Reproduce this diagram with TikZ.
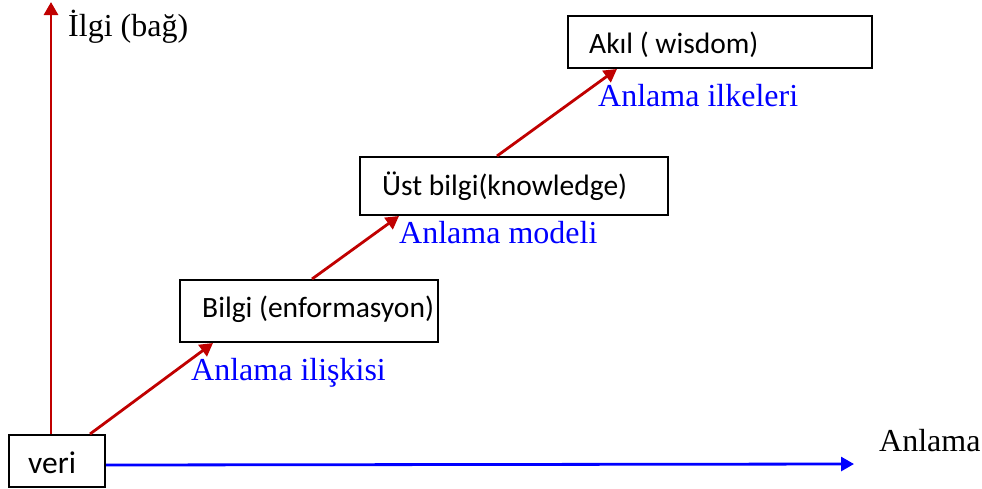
\documentclass[tikz,border=0pt]{standalone}
\usepackage{fontspec}
\setmainfont{Liberation Serif}
\newfontfamily\boxfont{Carlito}
\usetikzlibrary{arrows.meta,calc}

\definecolor{linkred}{RGB}{192,0,0}
\definecolor{axisblue}{RGB}{0,0,255}

\tikzset{
  stage/.style={draw=black, line width=2pt, rectangle, inner sep=0pt, anchor=north west},
  stagetext/.style={anchor=base west, inner sep=0pt, font=\boxfont\fontsize{29.5}{31}\selectfont},
  label/.style={anchor=base west, inner sep=0pt, font=\fontsize{32}{34}\selectfont},
  bluelabel/.style={label, text=axisblue},
  link/.style={draw=linkred, line width=2.8pt, -{Triangle[length=13pt,width=14pt]}},
  axis/.style={draw=axisblue, line width=2.8pt, -{Triangle[length=13pt,width=14pt]}},
}

\begin{document}
\begin{tikzpicture}[x=1pt, y=-1pt]
  \useasboundingbox (0,0) rectangle (982,488);

  % stage boxes
  \node[stage, minimum width=96pt,  minimum height=52pt] (veri)  at (8,434)   {};
  \node[stage, minimum width=258pt, minimum height=62pt] (bilgi) at (179,279) {};
  \node[stage, minimum width=308pt, minimum height=58pt] (ust)   at (359,156) {};
  \node[stage, minimum width=304pt, minimum height=52pt] (akil)  at (567,15)  {};

  % box texts
  \node[stagetext, font=\boxfont\fontsize{31.5}{33}\selectfont] (veriT) at ($(veri.north west)+(20,39)$) {veri};
  \node[stagetext] (bilgiT) at ($(bilgi.north west)+(23,38)$) {Bilgi (enformasyon)};
  \node[stagetext] (ustT)   at ($(ust.north west)+(23,39)$)   {Üst bilgi(knowledge)};
  \node[stagetext] (akilT)  at ($(akil.north west)+(22,38)$)  {Akıl ( wisdom)};

  % axis labels
  \node[label] (ilgi)   at (68,36)   {İlgi (bağ)};
  \node[label] (anlama) at (879,451) {Anlama};

  % relation labels
  \node[bluelabel] (l1) at (191,380) {Anlama ilişkisi};
  \node[bluelabel] (l2) at (399,243) {Anlama modeli};
  \node[bluelabel] (l3) at (598,106) {Anlama ilkeleri};

  % axes
  \coordinate (ytop) at (51,2);
  \coordinate (xend) at (854,464);
  \draw[link] ($(veri.north west)+(43,0)$) -- (ytop);
  \draw[axis] ($(veri.east)+(0,4)$) -- (xend);

  % links between stages
  \draw[link] ($(veri.north west)+(82,0)$)  -- ($(bilgi.south west)+(34,0)$);
  \draw[link] ($(bilgi.north west)+(133,0)$) -- ($(ust.south west)+(40,0)$);
  \draw[link] ($(ust.north west)+(138,0)$)   -- ($(akil.south west)+(50,0)$);
\end{tikzpicture}
\end{document}
